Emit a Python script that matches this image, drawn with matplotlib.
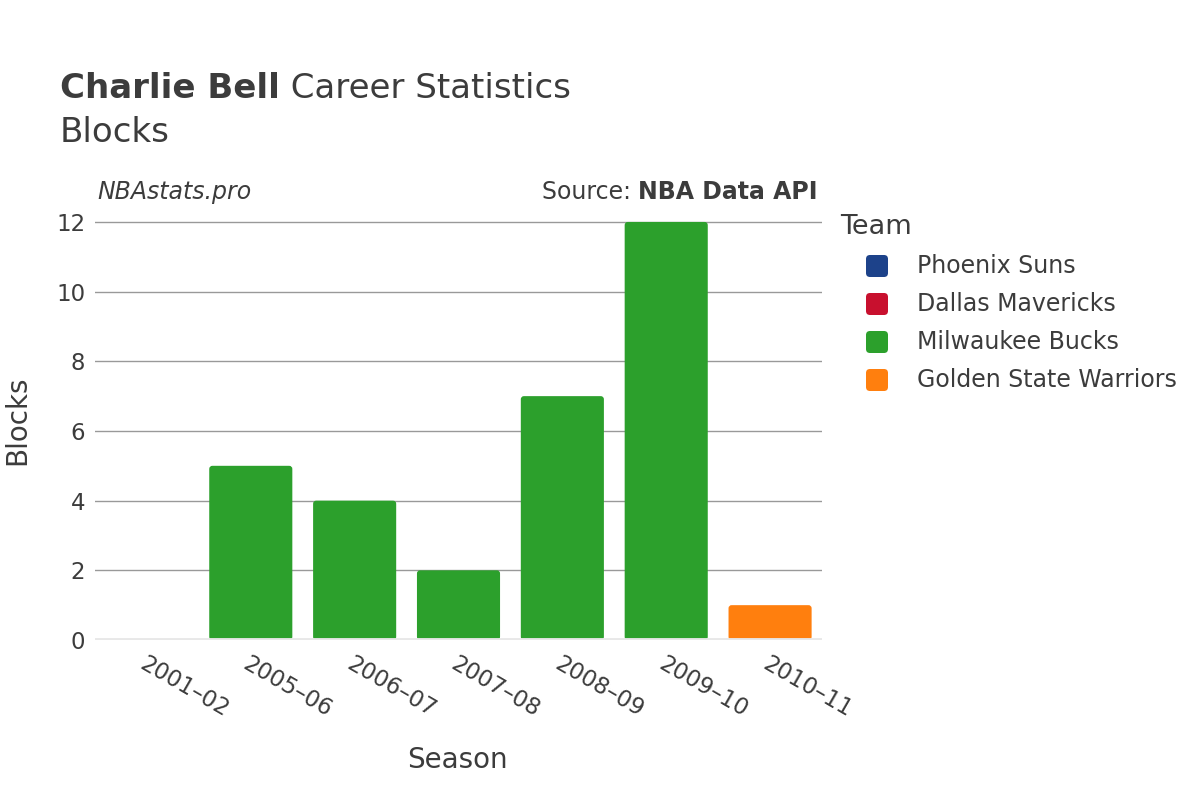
import matplotlib.pyplot as plt
from matplotlib.patches import FancyBboxPatch

seasons = ["2001–02", "2005–06", "2006–07", "2007–08", "2008–09", "2009–10", "2010–11"]
blocks = [0, 5, 4, 2, 7, 12, 1]
bar_team = ["Phoenix Suns", "Milwaukee Bucks", "Milwaukee Bucks", "Milwaukee Bucks",
            "Milwaukee Bucks", "Milwaukee Bucks", "Golden State Warriors"]
teams = ["Phoenix Suns", "Dallas Mavericks", "Milwaukee Bucks", "Golden State Warriors"]
team_colors = ["#1d428a", "#c8102e", "#2ca02c", "#ff7f0e"]
yticks = [0, 2, 4, 6, 8, 10, 12]

color_of = dict(zip(teams, team_colors))
text_col = "#3c3c3c"
W, H = 1200, 800

fig = plt.figure(figsize=(12, 8), dpi=100)
# plot area in pixels: x 95..822, y 200..640
ax = fig.add_axes([95 / W, (H - 640) / H, 727 / W, 440 / H])
ax.patch.set_alpha(0)

ymax = 12.63
bw = 0.8
px_x = 727 / 7
px_y = 440 / ymax
for i, (v, t) in enumerate(zip(blocks, bar_team)):
    if v <= 0:
        continue
    p = FancyBboxPatch((i - bw / 2, 0), bw, v,
                       boxstyle="round,pad=0,rounding_size=0.03",
                       mutation_aspect=px_x / px_y,
                       facecolor=color_of[t], edgecolor="none", zorder=3)
    ax.add_patch(p)

ax.set_xlim(-0.5, 6.5)
ax.set_ylim(0, ymax)
ax.set_yticks(yticks)
ax.set_yticklabels([str(v) for v in yticks], fontsize=16.5, color=text_col)
ax.set_xticks(range(len(seasons)))
ax.set_xticklabels(seasons, fontsize=16.5, color=text_col, rotation=-30,
                   ha="left", va="top", rotation_mode="anchor")
ax.tick_params(axis="both", length=0)
ax.tick_params(axis="y", pad=7)
ax.tick_params(axis="x", pad=9)
ax.grid(axis="y", color="#999999", linewidth=1, zorder=0)
ax.axhline(0, color="#e8e8e8", linewidth=3.5, zorder=4)
for s in ax.spines.values():
    s.set_visible(False)

# overlay in pixel coordinates for titles and legend
ov = fig.add_axes([0, 0, 1, 1], zorder=-1)
ov.set_xlim(0, W)
ov.set_ylim(H, 0)
ov.axis("off")

ov.text(457, 760, "Season", fontsize=20, color=text_col, ha="center", va="center")
ov.text(17, 420, "Blocks", fontsize=20, color=text_col, ha="center", va="center",
        rotation=90)

fig.canvas.draw()
r = fig.canvas.get_renderer()
inv = ov.transData.inverted()

t1 = ov.text(60, 89, "Charlie Bell", fontsize=24.5, fontweight="bold", color=text_col,
             ha="left", va="center")
bb = inv.transform(t1.get_window_extent(r))
ov.text(bb[1][0], 89, " Career Statistics", fontsize=24.5, color=text_col,
        ha="left", va="center")
ov.text(60, 132, "Blocks", fontsize=24.5, color=text_col, ha="left", va="center")

ov.text(97, 192, "NBAstats.pro", fontsize=17, style="italic", color=text_col,
        ha="left", va="center")
t2 = ov.text(818, 192, "NBA Data API", fontsize=17, fontweight="bold", color=text_col,
             ha="right", va="center")
bb2 = inv.transform(t2.get_window_extent(r))
ov.text(bb2[0][0], 192, "Source: ", fontsize=17, color=text_col, ha="right", va="center")

# legend
ov.text(840, 227, "Team", fontsize=19.5, color=text_col, ha="left", va="center")
for k, (name, c) in enumerate(zip(teams, team_colors)):
    y = 266 + 38 * k
    ov.add_patch(FancyBboxPatch((866, y - 11), 22, 22,
                                boxstyle="round,pad=0,rounding_size=4",
                                facecolor=c, edgecolor="none"))
    ov.text(917, y, name, fontsize=17, color=text_col, ha="left", va="center")

fig.savefig("out.png", dpi=100, facecolor="white")
